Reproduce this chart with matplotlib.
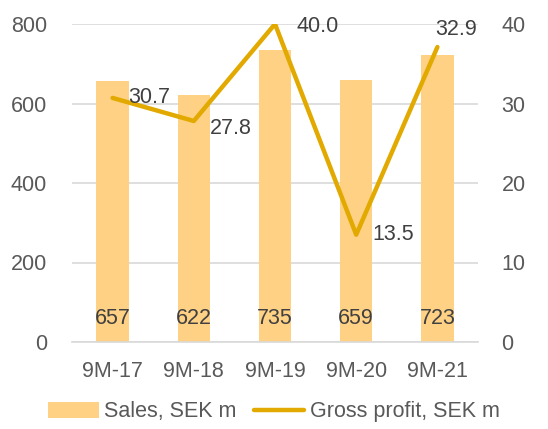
import matplotlib.pyplot as plt
import numpy as np

plt.rcParams["font.family"] = ["Liberation Sans", "DejaVu Sans"]

periods = ["9M-17", "9M-18", "9M-19", "9M-20", "9M-21"]
sales = [657, 622, 735, 659, 723]
gross_profit = [30.7, 27.8, 40.0, 13.5, 37.1]
gross_profit_labels = ["30.7", "27.8", "40.0", "13.5", "32.9"]

bar_color = "#FFD185"
line_color = "#E2AA00"
tick_color = "#595959"
label_color = "#404040"
fs = 15.5

fig = plt.figure(figsize=(5.48, 4.29), dpi=100)
ax = fig.add_axes([72 / 548, 1 - 342 / 429, 406 / 548, 318 / 429])
ax2 = ax.twinx()

x = np.arange(len(periods))
bars = ax.bar(x, sales, width=0.4, color=bar_color, zorder=2, label="Sales, SEK m")
ax.set_ylim(0, 800)
ax.set_xlim(-0.5, len(periods) - 0.5)
ax.set_yticks([0, 200, 400, 600, 800])
ax.yaxis.grid(True, color="#D9D9D9", linewidth=1.2, zorder=0)
ax.set_axisbelow(True)
ax.set_xticks(x)
ax.set_xticklabels(periods)

for xi, v in zip(x, sales):
    ax.text(xi, 58, str(v), ha="center", va="center", fontsize=fs, color=label_color, zorder=3)

line, = ax2.plot(x, gross_profit, color=line_color, linewidth=3.2, solid_capstyle="round",
                 label="Gross profit, SEK m", zorder=4)
ax2.set_ylim(0, 40)
ax2.set_yticks([0, 10, 20, 30, 40])

offsets = [(0.45, 0.0), (0.45, -1.0), (0.53, -0.3), (0.45, 0.0), (0.23, 2.2)]
for xi, v, lab, (dx, dy) in zip(x, gross_profit, gross_profit_labels, offsets):
    ax2.text(xi + dx, v + dy, lab, ha="center", va="center", fontsize=fs, color=label_color, zorder=5)

for a in (ax, ax2):
    for s in ["top", "left", "right"]:
        a.spines[s].set_visible(False)
    a.tick_params(length=0, labelsize=fs, colors=tick_color)
ax.spines["bottom"].set_color("#D9D9D9")
ax.spines["bottom"].set_linewidth(1.2)
ax2.spines["bottom"].set_visible(False)
ax.tick_params(axis="y", pad=18)
ax2.tick_params(axis="y", pad=17)
ax.tick_params(axis="x", pad=14)

fig.legend([bars, line], ["Sales, SEK m", "Gross profit, SEK m"], loc="center",
           bbox_to_anchor=(0.5, 1 - 412 / 429), ncol=2, frameon=False, fontsize=fs,
           handlelength=2.35, handletextpad=0.25, columnspacing=0.8, labelcolor=tick_color)

fig.savefig("out.png", dpi=100)
